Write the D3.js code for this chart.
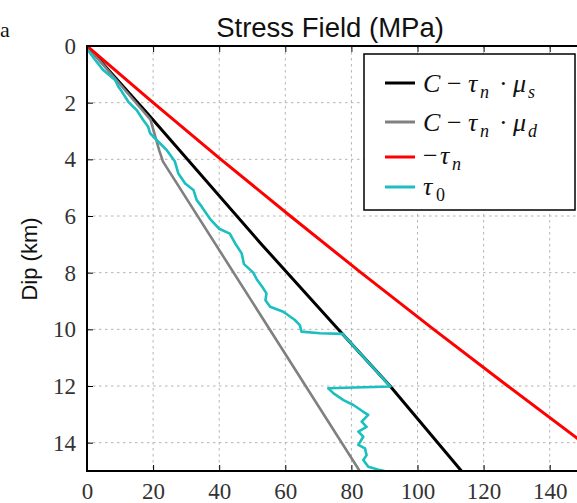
<!DOCTYPE html>
<html><head><meta charset="utf-8">
<script src="https://cdn.jsdelivr.net/npm/d3@7"></script>
<style>body{margin:0;background:#fff;overflow:hidden}</style></head>
<body>
<svg id="c" width="577" height="503"></svg>
<script>
// ---- data ----
const stressTicks = [0, 20, 40, 60, 80, 100, 120, 140];
const depthTicks = [0, 2, 4, 6, 8, 10, 12, 14];
const titleText = "Stress Field (MPa)";
const yLabel = "Dip (km)";
const panelLabel = "a";

const blackDepth  = [0, 2.38, 6.96, 10, 12, 15];
const blackStress = [0, 18.3, 52.5, 76, 91.7, 113.3];

const grayDepth  = [0, 2.1, 2.6, 3.7, 4.08, 15];
const grayStress = [0, 15.5, 19.2, 21.9, 23, 82.5];

const redDepth  = [0, 2, 4, 6, 8, 10, 12, 14, 15];
const redStress = [0, 20.0, 40.5, 61.5, 82.9, 104.9, 127.3, 150.1, 161.8];

const cyanStress = [0.3,2.2,4.9,8.5,9.5,10.5,12.5,15,17,18.5,19.1,21.6,24.1,26.6,27.6,29.7,32.2,33.2,34.7,37.2,40,43.2,44.8,46.8,47.5,50.3,51.5,53,54.3,54,55.4,59.4,62.9,64.4,64.9,70.5,77.3,91.8,73,74.6,77.6,80.6,83.6,85.1,83.1,84.6,82.1,83.6,82.1,84.1,84.6,83.6,85.1,88.7,90];
const cyanDepth  = [0.15,0.45,0.85,1.2,1.44,1.6,1.97,2.26,2.61,2.85,3.08,3.38,3.67,4.08,4.49,4.85,5.08,5.44,5.67,6.1,6.45,6.62,6.96,7.32,7.7,8.0,8.26,8.5,8.73,8.97,9.2,9.38,9.67,9.85,10.08,10.14,10.16,12.02,12.08,12.26,12.5,12.67,12.91,13.02,13.26,13.44,13.61,13.79,14.08,14.2,14.44,14.61,14.85,14.97,15.0];

// ---- layout ----
const svg = d3.select("#c");
const L = 87, T = 46, B = 471;
const x = d3.scaleLinear().domain([0, 150]).range([L, 582.75]);
const y = d3.scaleLinear().domain([0, 15]).range([T, B]);
const R = x(150);

svg.append("defs").append("clipPath").attr("id", "clip")
  .append("rect").attr("x", L).attr("y", T).attr("width", R - L).attr("height", B - T);

// grid
const grid = svg.append("g").attr("stroke", "#b4b4b4").attr("stroke-width", 1).attr("stroke-dasharray", "2.5,3.5");
grid.selectAll(".gx").data(stressTicks.filter(d => d > 0)).join("line")
  .attr("x1", d => x(d)).attr("x2", d => x(d)).attr("y1", T).attr("y2", B);
grid.selectAll(".gy").data(depthTicks.filter(d => d > 0)).join("line")
  .attr("y1", d => y(d)).attr("y2", d => y(d)).attr("x1", L).attr("x2", R);

// series
const series = [
  {s: blackStress, d: blackDepth, c: "#000000", w: 3},
  {s: grayStress,  d: grayDepth,  c: "#808080", w: 2.6},
  {s: redStress,   d: redDepth,   c: "#ff0000", w: 3},
  {s: cyanStress,  d: cyanDepth,  c: "#1bbfbf", w: 2.6}
];
const line = d3.line().x(p => x(p[0])).y(p => y(p[1]));
const lg = svg.append("g").attr("clip-path", "url(#clip)");
series.forEach(sr => {
  lg.append("path").datum(sr.s.map((v, i) => [v, sr.d[i]]))
    .attr("d", line).attr("fill", "none").attr("stroke", sr.c)
    .attr("stroke-width", sr.w).attr("stroke-linejoin", "round").attr("stroke-linecap", "round");
});

// axes
const tickFont = "'Liberation Serif', 'DejaVu Serif', serif";
const ax = svg.append("g").attr("transform", `translate(0,${B})`)
  .call(d3.axisBottom(x).tickValues(stressTicks).tickSize(-6).tickPadding(12));
const axT = svg.append("g").attr("transform", `translate(0,${T})`)
  .call(d3.axisTop(x).tickValues(stressTicks).tickSize(-6).tickFormat(""));
const ay = svg.append("g").attr("transform", `translate(${L},0)`)
  .call(d3.axisLeft(y).tickValues(depthTicks).tickSize(-6).tickPadding(11));
[ax, axT, ay].forEach(g => {
  g.attr("font-family", null).attr("font-size", null);
  g.select(".domain").remove();
  g.selectAll(".tick line").attr("stroke", "#000").attr("stroke-width", 1);
  g.selectAll("text").style("font-family", tickFont).style("font-size", "23px").attr("fill", "#333");
});

// spines
const sp = svg.append("g").attr("stroke", "#000").attr("stroke-width", 2).attr("fill", "none");
sp.append("path").attr("d", `M${R},${T}H${L}V${B}H${R}`);

// legend
const leg = svg.append("g");
leg.append("rect").attr("x", 364).attr("y", 54).attr("width", 211).attr("height", 156)
  .attr("fill", "#fff").attr("stroke", "#000").attr("stroke-width", 1.5);
const legY = [83, 122, 157, 187];
const legBase = [92, 131, 164, 195];
series.forEach((sr, i) => {
  leg.append("line").attr("x1", 385).attr("x2", 415).attr("y1", legY[i]).attr("y2", legY[i])
    .attr("stroke", sr.c).attr("stroke-width", 3);
});
const mf = "'Liberation Serif', 'DejaVu Serif', serif";
function mathLabel(yb, parts) {
  const t = leg.append("text").attr("y", yb).style("font-family", mf).attr("font-size", 26).attr("fill", "#111");
  parts.forEach(p => {
    t.append("tspan").attr("x", p.x).attr("y", yb + (p.sub ? 6 : 0))
      .attr("font-style", p.it ? "italic" : "normal")
      .attr("font-size", p.sub ? 18 : 26).text(p.t);
  });
}
mathLabel(legBase[0], [
  {t:"C",x:423,it:1},{t:"\u2212",x:447},{t:"\u03c4",x:468,it:1},{t:"n",x:480,it:1,sub:1},
  {t:"\u00b7",x:499},{t:"\u03bc",x:513,it:1},{t:"s",x:528,it:1,sub:1}]);
mathLabel(legBase[1], [
  {t:"C",x:423,it:1},{t:"\u2212",x:447},{t:"\u03c4",x:468,it:1},{t:"n",x:480,it:1,sub:1},
  {t:"\u00b7",x:499},{t:"\u03bc",x:513,it:1},{t:"d",x:528,it:1,sub:1}]);
mathLabel(legBase[2], [
  {t:"\u2212",x:423},{t:"\u03c4",x:440,it:1},{t:"n",x:452,it:1,sub:1}]);
mathLabel(legBase[3], [
  {t:"\u03c4",x:423,it:1},{t:"0",x:436,sub:1}]);

// title and labels
svg.append("text").attr("x", 330).attr("y", 37).attr("text-anchor", "middle")
  .style("font-family", "'Liberation Sans', Arial, sans-serif").attr("font-size", 27.5).attr("fill", "#111")
  .text(titleText);
svg.append("text").attr("transform", "translate(37,259) rotate(-90)").attr("text-anchor", "middle")
  .style("font-family", "'Liberation Sans', Arial, sans-serif").attr("font-size", 22).attr("fill", "#111")
  .text(yLabel);
svg.append("text").attr("x", 0).attr("y", 37)
  .style("font-family", mf).attr("font-size", 22).attr("fill", "#111").text(panelLabel);
</script>
</body></html>
